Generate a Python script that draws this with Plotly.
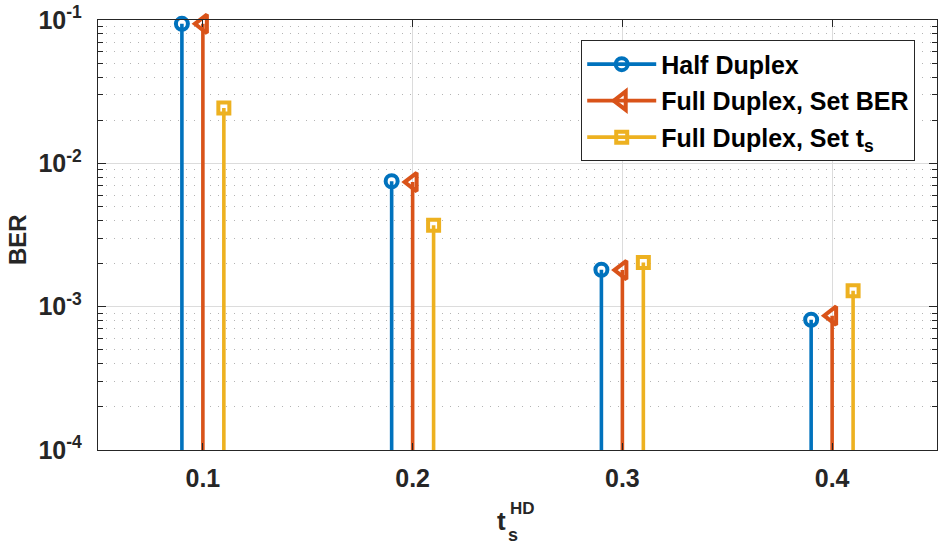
import plotly.graph_objects as go

# ---- data ----
t_hd = [0.1, 0.2, 0.3, 0.4]
offsets = [-0.01, 0.0, 0.01]
series_names = ["Half Duplex", "Full Duplex, Set BER", "Full Duplex, Set t<sub>s</sub>"]
ber_half = [0.094, 0.0075, 0.00181, 0.00081]
ber_fd_set_ber = [0.094, 0.0074, 0.0018, 0.000865]
ber_fd_set_ts = [0.0243, 0.0037, 0.00203, 0.00129]
y_tick_vals = [1e-4, 1e-3, 1e-2, 1e-1]
y_tick_text = ["10<sup>-4</sup>", "10<sup>-3</sup>", "10<sup>-2</sup>", "10<sup>-1</sup>"]
x_tick_vals = [0.1, 0.2, 0.3, 0.4]
x_tick_text = ["0.1", "0.2", "0.3", "0.4"]

colors = ["#0072BD", "#D95319", "#EDB120"]
symbols = ["circle-open", "triangle-left-open", "square-open"]
sizes = [12, 16, 11]
base = 1e-7

fig = go.Figure()
for name, vals, off, col, sym, sz in zip(series_names,
                                         [ber_half, ber_fd_set_ber, ber_fd_set_ts],
                                         offsets, colors, symbols, sizes):
    xs, ys = [], []
    for xv, yv in zip(t_hd, vals):
        xs += [xv + off, xv + off, None]
        ys += [base, yv, None]
    fig.add_trace(go.Scatter(
        x=xs, y=ys, mode="lines+markers", name=name,
        line=dict(color=col, width=3.6),
        marker=dict(symbol=sym, size=sz, color=col, line=dict(width=4, color=col)),
        cliponaxis=False, legendgroup=name,
    ))

font_family = "Liberation Sans, Arial, sans-serif"
axis_common = dict(
    showline=True, linecolor="#262626", linewidth=1.3, mirror="ticks",
    ticks="inside", tickcolor="#262626", tickwidth=1.2,
    tickfont=dict(family=font_family, size=25, color="#262626", weight="bold"),
    gridcolor="#dcdcdc", gridwidth=1, zeroline=False, automargin=False,
)

fig.update_xaxes(
    range=[0.05, 0.45], tickvals=x_tick_vals, ticktext=x_tick_text,
    ticklen=7, ticklabelstandoff=6, **axis_common,
)
fig.update_yaxes(
    type="log", range=[-4, -1], tickvals=y_tick_vals, ticktext=y_tick_text,
    ticklen=8, ticklabelstandoff=10,
    minor=dict(dtick="D1", ticks="inside", ticklen=5, tickcolor="#262626",
               showgrid=True, gridcolor="#b4b4b4", griddash="1px,7px", gridwidth=1.2),
    **axis_common,
)

ann_font = dict(family=font_family, color="#262626", weight="bold")
# y-axis title
fig.add_annotation(text="BER", xref="paper", yref="paper", x=-0.0965, y=0.5,
                   yshift=-5, textangle=-90, showarrow=False,
                   xanchor="center", yanchor="middle",
                   font=dict(size=24, **ann_font))
# x-axis title t_s^HD built from stacked pieces
fig.add_annotation(text="t", xref="paper", yref="paper", x=0.4815, y=-0.165,
                   showarrow=False, xanchor="center", yanchor="middle",
                   font=dict(size=26, **ann_font))
fig.add_annotation(text="HD", xref="paper", yref="paper", x=0.506, y=-0.135,
                   showarrow=False, xanchor="center", yanchor="middle",
                   font=dict(size=17, **ann_font))
fig.add_annotation(text="s", xref="paper", yref="paper", x=0.4946, y=-0.197,
                   showarrow=False, xanchor="center", yanchor="middle",
                   font=dict(size=18, **ann_font))

fig.update_layout(
    width=938, height=548,
    margin=dict(l=98, r=1, t=20, b=98),
    paper_bgcolor="white", plot_bgcolor="white",
    font=dict(family=font_family, color="#262626"),
    legend=dict(
        x=0.5757, y=0.953, xanchor="left", yanchor="top",
        bgcolor="white", bordercolor="#262626", borderwidth=1.2,
        font=dict(family=font_family, size=25, color="black", weight="bold"),
        tracegroupgap=1, itemwidth=69, traceorder="grouped",
    ),
    showlegend=True,
)

fig.write_html("out.html")
